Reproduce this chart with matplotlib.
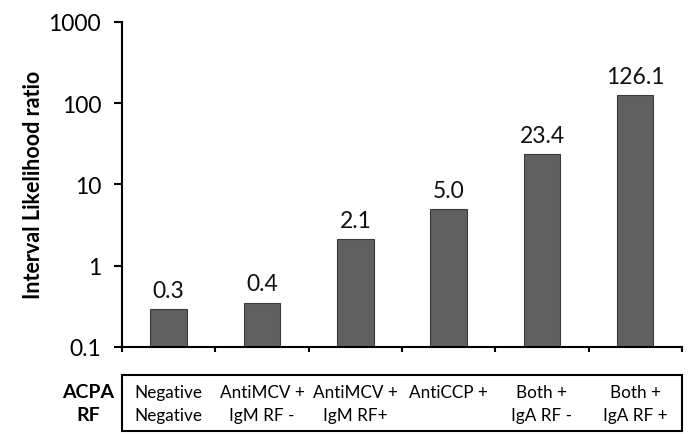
import numpy as np
import matplotlib
matplotlib.use("Agg")
import matplotlib.pyplot as plt
from matplotlib.patches import Rectangle

plt.rcParams['font.family'] = ['Lato', 'DejaVu Sans']

# data
acpa = ["Negative", "AntiMCV +", "AntiMCV +", "AntiCCP +", "Both +", "Both +"]
rf = ["Negative", "IgM RF -", "IgM RF+", "", "IgA RF -", "IgA RF +"]
heights = [0.29, 0.35, 2.1, 5.0, 23.4, 126.1]
labels = ["0.3", "0.4", "2.1", "5.0", "23.4", "126.1"]
yticks = [0.1, 1, 10, 100, 1000]
ytick_labels = ["0.1", "1", "10", "100", "1000"]

fig = plt.figure(figsize=(6.98, 4.35), dpi=100)
ax = fig.add_axes([0.1748, 0.2, 0.977 - 0.1748, 0.9478 - 0.2])

x = np.arange(len(heights))
ax.bar(x, heights, width=0.39, color='#606060', edgecolor='#3a3a3a', linewidth=0.8, zorder=2)
ax.set_yscale('log')
ax.set_ylim(0.1, 1000)
ax.set_xlim(-0.5, len(heights) - 0.5)

for xi, h, lab in zip(x, heights, labels):
	ax.annotate(lab, (xi, h), xytext=(0, 6), textcoords='offset points',
		ha='center', va='bottom', fontsize=16.5, color='#111111')

ax.set_yticks(yticks)
ax.set_yticklabels(ytick_labels, fontsize=16.5)
ax.yaxis.set_minor_locator(matplotlib.ticker.NullLocator())
ax.tick_params(axis='y', direction='out', length=6, width=1.5, pad=9)

ax.set_xticks(np.arange(len(heights) + 1) - 0.5)
ax.set_xticklabels([])
ax.tick_params(axis='x', direction='out', length=3.5, width=1.5)

for s in ['top', 'right']:
	ax.spines[s].set_visible(False)
for s in ['left', 'bottom']:
	ax.spines[s].set_linewidth(1.5)

ax.set_ylabel("Interval Likelihood ratio", fontsize=15.5, fontweight='bold', labelpad=3)

# table box below the axis
box = Rectangle((0, -0.257), 1, 0.171, transform=ax.transAxes, fill=False,
	edgecolor='black', linewidth=1.5, clip_on=False)
ax.add_patch(box)

tr = ax.get_xaxis_transform()
for xi, a, r in zip(x, acpa, rf):
	ax.text(xi, -0.138, a, transform=tr, ha='center', va='center', fontsize=12.3)
	ax.text(xi, -0.209, r, transform=tr, ha='center', va='center', fontsize=12.3)

ax.text(-0.06, -0.138, "ACPA", transform=ax.transAxes, ha='center', va='center',
	fontsize=14, fontweight='bold')
ax.text(-0.06, -0.209, "RF", transform=ax.transAxes, ha='center', va='center',
	fontsize=14, fontweight='bold')

fig.savefig("out.png", dpi=100)
